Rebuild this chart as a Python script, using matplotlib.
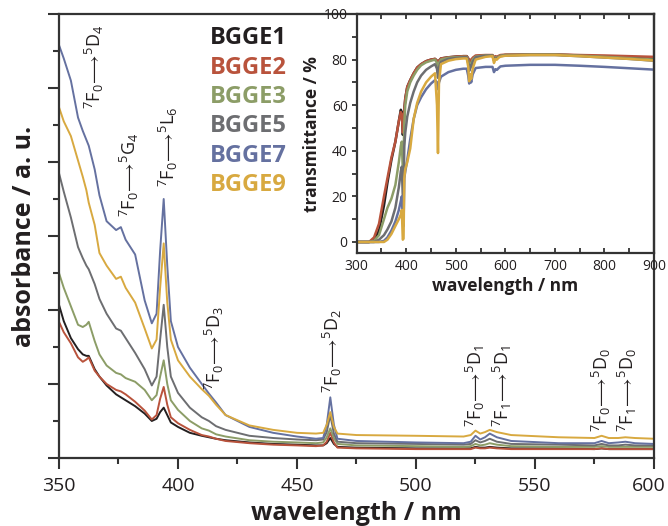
import matplotlib
matplotlib.use("Agg")
import matplotlib.pyplot as plt
import matplotlib.transforms as mtransforms
from matplotlib.ticker import MultipleLocator, NullFormatter

plt.rcParams["font.family"] = ["Open Sans", "DejaVu Sans"]
plt.rcParams["mathtext.fontset"] = "custom"
plt.rcParams["mathtext.rm"] = "Open Sans"
plt.rcParams["mathtext.it"] = "Open Sans"

# ---- main absorbance data ----
wl_abs = [350, 352, 355, 358, 360, 361.5, 362.5, 365, 367, 370, 374, 376, 378, 382, 386,
          389, 391, 392.5, 394, 395.5, 397, 400, 405, 410, 413, 416, 420, 430, 440, 450,
          458, 461, 462.5, 464, 465.5, 467, 475, 500, 520, 523, 525, 527, 529, 531, 534,
          540, 560, 575, 578, 581, 585, 588, 592, 600]

abs_bgge1 = [2.07, 1.85, 1.62, 1.47, 1.40, 1.38, 1.38, 1.20, 1.10, 0.98, 0.86, 0.82, 0.78, 0.70, 0.60,
             0.50, 0.53, 0.62, 0.68, 0.58, 0.48, 0.42, 0.34, 0.30, 0.28, 0.26, 0.24, 0.21, 0.19, 0.18,
             0.17, 0.17, 0.20, 0.27, 0.19, 0.15, 0.14, 0.13, 0.13, 0.13, 0.15, 0.14, 0.14, 0.15, 0.14,
             0.13, 0.13, 0.12, 0.13, 0.12, 0.12, 0.12, 0.12, 0.12]
abs_bgge2 = [1.84, 1.70, 1.55, 1.36, 1.30, 1.33, 1.36, 1.18, 1.10, 1.00, 0.92, 0.90, 0.86, 0.76, 0.64,
             0.52, 0.58, 0.80, 0.96, 0.72, 0.55, 0.47, 0.38, 0.31, 0.29, 0.26, 0.23, 0.20, 0.18, 0.17,
             0.16, 0.17, 0.22, 0.34, 0.21, 0.14, 0.13, 0.12, 0.12, 0.12, 0.14, 0.13, 0.13, 0.14, 0.13,
             0.12, 0.12, 0.12, 0.13, 0.12, 0.12, 0.12, 0.12, 0.12]
abs_bgge3 = [2.50, 2.30, 2.05, 1.80, 1.77, 1.80, 1.84, 1.58, 1.40, 1.25, 1.15, 1.13, 1.08, 1.03, 0.92,
             0.78, 0.85, 1.10, 1.32, 1.00, 0.78, 0.65, 0.50, 0.40, 0.37, 0.32, 0.29, 0.24, 0.22, 0.21,
             0.20, 0.21, 0.28, 0.40, 0.27, 0.19, 0.17, 0.16, 0.15, 0.16, 0.19, 0.17, 0.18, 0.20, 0.18,
             0.16, 0.15, 0.15, 0.16, 0.15, 0.15, 0.15, 0.15, 0.15]
abs_bgge5 = [3.85, 3.60, 3.25, 2.85, 2.70, 2.60, 2.55, 2.35, 2.15, 1.95, 1.75, 1.72, 1.62, 1.42, 1.20,
             0.98, 1.10, 1.60, 2.07, 1.50, 1.10, 0.88, 0.68, 0.55, 0.50, 0.43, 0.38, 0.30, 0.27, 0.25,
             0.24, 0.25, 0.35, 0.58, 0.33, 0.22, 0.20, 0.19, 0.18, 0.19, 0.24, 0.21, 0.23, 0.26, 0.22,
             0.19, 0.18, 0.17, 0.19, 0.17, 0.17, 0.18, 0.17, 0.17]
abs_bgge7 = [5.58, 5.40, 5.10, 4.60, 4.42, 4.30, 4.22, 3.90, 3.55, 3.20, 3.08, 3.12, 2.95, 2.75, 2.13,
             1.82, 1.95, 2.80, 3.50, 2.60, 1.85, 1.50, 1.22, 1.00, 0.87, 0.75, 0.58, 0.42, 0.34, 0.29,
             0.26, 0.27, 0.45, 0.82, 0.45, 0.26, 0.23, 0.21, 0.20, 0.22, 0.30, 0.25, 0.28, 0.33, 0.28,
             0.23, 0.20, 0.20, 0.23, 0.20, 0.21, 0.22, 0.20, 0.19]
abs_bgge9 = [4.74, 4.55, 4.35, 4.02, 3.80, 3.62, 3.45, 3.15, 2.77, 2.60, 2.42, 2.45, 2.30, 2.10, 1.75,
             1.48, 1.60, 2.30, 2.90, 2.10, 1.60, 1.32, 1.10, 0.93, 0.84, 0.72, 0.58, 0.44, 0.38, 0.34,
             0.33, 0.34, 0.45, 0.62, 0.42, 0.33, 0.31, 0.30, 0.29, 0.31, 0.37, 0.33, 0.35, 0.38, 0.35,
             0.31, 0.28, 0.27, 0.30, 0.27, 0.27, 0.28, 0.27, 0.26]

# ---- inset transmittance data ----
wl_t = [300, 325, 335, 345, 355, 362, 370, 378, 385, 389, 391, 393, 394.5, 396, 398, 402, 408,
        415, 422, 430, 440, 450, 458, 462, 464, 466, 470, 485, 500, 515, 522, 525, 527, 529,
        531, 534, 540, 560, 574, 577, 580, 583, 586, 590, 600, 650, 700, 750, 800, 850, 900]

t_bgge1 = [0, 0, 1, 5, 16, 26, 36, 44, 53, 58, 57, 47, 49, 58, 63, 68, 71,
           74, 76.5, 78, 79.3, 80, 80.3, 79.5, 77, 79.5, 80.5, 81, 81.3, 81.5, 81.5, 80.5, 78.5, 79.5,
           79, 80.5, 81.5, 81.8, 81.8, 80.5, 81.2, 81, 81.3, 81.7, 82, 82.2, 82.2, 81.8, 81.3, 80.8, 80.3]
t_bgge2 = [0, 0, 2, 8, 20, 28, 37, 44, 53, 57, 56, 48, 50, 58, 63, 68, 71,
           74, 76.5, 78, 79.3, 80, 80.3, 79.5, 77, 79.5, 80.5, 81, 81.3, 81.5, 81.5, 80.5, 79, 80,
           79.5, 80.8, 81.8, 82, 82, 81, 81.5, 81.2, 81.6, 82, 82.2, 82.3, 82.3, 82, 81.8, 81.5, 81.2]
t_bgge3 = [0, 0, 0.5, 3, 10, 15, 19, 25, 35, 42, 44, 32, 35, 52, 60, 66, 70,
           73, 75.5, 77.5, 78.8, 79.5, 80, 78.5, 74, 78.5, 80, 80.8, 81, 81.2, 81.2, 79.5, 77, 78.5,
           78, 80, 81.3, 81.8, 81.8, 80, 81, 80.8, 81.2, 81.7, 82, 82.2, 82.2, 81.7, 81.2, 80.6, 80]
t_bgge5 = [0, 0, 0, 1, 3, 5.5, 9, 15, 24, 31, 33, 20, 18, 42, 48, 55, 61,
           66, 70, 73, 75.5, 77, 78, 76, 72, 76.5, 79, 80.3, 80.7, 81, 81, 78.5, 75, 77.5,
           76.5, 79, 81, 81.7, 81.7, 79.5, 80.7, 80.5, 81, 81.5, 81.8, 82, 82, 81.5, 80.9, 80.3, 79.5]
t_bgge7 = [0, 0, 0, 0, 0.5, 2, 5, 9, 14, 18, 20, 10, 7, 28, 31, 36, 45,
           54, 60, 63.5, 67, 69.5, 71, 70, 67, 70, 72.5, 74.5, 75.5, 76, 76, 73, 69.5, 72,
           70, 73.5, 76.3, 76.8, 76.8, 74.5, 75.8, 75.5, 76.2, 77, 77.3, 77.7, 77.7, 77.3, 76.8, 76.2, 75.6]
t_bgge9 = [0, 0, 0, 0, 0, 1, 3.5, 7, 10, 12, 14, 1, 1.5, 28, 32, 35, 41,
           54, 61, 66, 70, 72.5, 74, 60, 39, 70, 78, 79.5, 80.2, 80.5, 80.5, 77, 70.5, 73.5,
           71.5, 76, 80, 81.2, 81.5, 78.5, 80.3, 80, 80.8, 81.3, 81.7, 82, 82, 81.5, 80.9, 80.3, 79.6]

names = ["BGGE1", "BGGE2", "BGGE3", "BGGE5", "BGGE7", "BGGE9"]
colors = ["#231f20", "#b9533c", "#8c9d67", "#6d6e71", "#6571a0", "#d8a940"]
abs_all = [abs_bgge1, abs_bgge2, abs_bgge3, abs_bgge5, abs_bgge7, abs_bgge9]
t_all = [t_bgge1, t_bgge2, t_bgge3, t_bgge5, t_bgge7, t_bgge9]

# transition labels: (wavelength, bottom of text, label)
trans_x = [365, 379.5, 396, 415.5, 465, 524.8, 536.3, 578, 589]
trans_y = [4.72, 3.26, 3.66, 0.92, 0.88, 0.42, 0.42, 0.35, 0.35]
trans_lbl = [
    r"$^{7}\mathrm{F}_{0}\!\longrightarrow\!^{5}\mathrm{D}_{4}$",
    r"$^{7}\mathrm{F}_{0}\!\longrightarrow\!^{5}\mathrm{G}_{4}$",
    r"$^{7}\mathrm{F}_{0}\!\longrightarrow\!^{5}\mathrm{L}_{6}$",
    r"$^{7}\mathrm{F}_{0}\!\longrightarrow\!^{5}\mathrm{D}_{3}$",
    r"$^{7}\mathrm{F}_{0}\!\longrightarrow\!^{5}\mathrm{D}_{2}$",
    r"$^{7}\mathrm{F}_{0}\!\longrightarrow\!^{5}\mathrm{D}_{1}$",
    r"$^{7}\mathrm{F}_{1}\!\longrightarrow\!^{5}\mathrm{D}_{1}$",
    r"$^{7}\mathrm{F}_{0}\!\longrightarrow\!^{5}\mathrm{D}_{0}$",
    r"$^{7}\mathrm{F}_{1}\!\longrightarrow\!^{5}\mathrm{D}_{0}$",
]

spine_c = "#333333"

fig = plt.figure(figsize=(6.68, 5.26), dpi=100)
ax = fig.add_axes([0.0883, 0.1293, 0.8907, 0.8441])

for y, c in zip(abs_all, colors):
    ax.plot(wl_abs, y, color=c, lw=1.4)

ax.set_xlim(350, 600)
ax.set_ylim(0, 6)
ax.xaxis.set_major_locator(MultipleLocator(50))
ax.xaxis.set_minor_locator(MultipleLocator(25))
ax.yaxis.set_major_locator(MultipleLocator(1))
ax.yaxis.set_minor_locator(MultipleLocator(0.5))
ax.yaxis.set_major_formatter(NullFormatter())
ax.tick_params(which="major", direction="out", length=8, width=1.5, color=spine_c,
               labelsize=14, labelcolor="#231f20", pad=6)
ax.tick_params(which="minor", direction="out", length=4.5, width=1.5, color=spine_c)
for s in ax.spines.values():
    s.set_linewidth(1.6)
    s.set_color(spine_c)
ax.set_xlabel("wavelength / nm", fontsize=18, fontweight="bold", color="#231f20", labelpad=4)
ax.set_ylabel("absorbance / a. u.", fontsize=18, fontweight="bold", color="#231f20", labelpad=2)

# the "600" label sits a little left of its tick, as in the original
fig.canvas.draw()
for lbl in ax.get_xticklabels():
    if lbl.get_text() == "600":
        lbl.set_transform(lbl.get_transform()
                          + mtransforms.ScaledTranslation(-5 / 100, 0, fig.dpi_scale_trans))

for x, y, t in zip(trans_x, trans_y, trans_lbl):
    ax.text(x, y, t, rotation=90, ha="center", va="bottom", fontsize=13, color="#231f20")

for i, (n, c) in enumerate(zip(names, colors)):
    ax.text(0.254, 0.945 - i * 0.066, n, transform=ax.transAxes, color=c,
            fontsize=17, fontweight="bold", va="center", ha="left")

# inset
axi = fig.add_axes([0.534, 0.5183, 0.4451, 0.4551])
axi.patch.set_alpha(0)
for y, c in zip(t_all, colors):
    axi.plot(wl_t, y, color=c, lw=1.8)
axi.set_xlim(300, 900)
axi.set_ylim(-5, 100)
axi.xaxis.set_major_locator(MultipleLocator(100))
axi.xaxis.set_minor_locator(MultipleLocator(50))
axi.yaxis.set_major_locator(MultipleLocator(20))
axi.yaxis.set_minor_locator(MultipleLocator(10))
axi.tick_params(axis="y", which="both", direction="out", length=3.5, width=1.3, color=spine_c,
                labelsize=10, labelcolor="#231f20", pad=3)
axi.tick_params(axis="x", which="both", direction="in", length=3.5, width=1.3, color=spine_c,
                labelsize=10, labelcolor="#231f20", pad=4, top=True)
for s in axi.spines.values():
    s.set_linewidth(1.6)
    s.set_color(spine_c)
axi.set_xlabel("wavelength / nm", fontsize=12.5, fontweight="bold", color="#231f20", labelpad=2)
axi.set_ylabel("transmittance / %", fontsize=12.5, fontweight="bold", color="#231f20", labelpad=2)

fig.savefig("out.png", dpi=100)
